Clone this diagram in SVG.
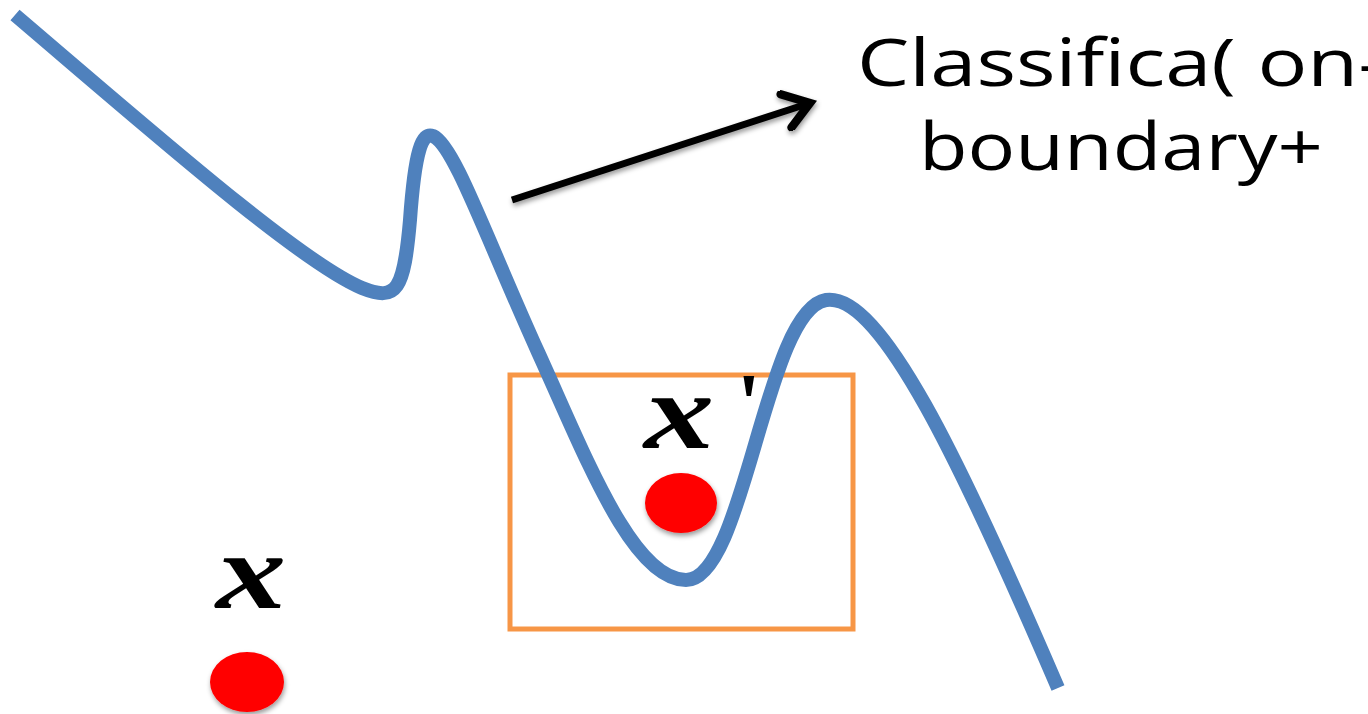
<svg xmlns="http://www.w3.org/2000/svg" width="1368" height="714" viewBox="0 0 1368 714">
<defs>
<filter id="sh" x="-30%" y="-30%" width="160%" height="170%"><feDropShadow dx="1" dy="3" stdDeviation="2.5" flood-color="#000" flood-opacity="0.4"/></filter>
<marker id="ah" markerWidth="6" markerHeight="6" refX="4.6" refY="3" orient="auto" markerUnits="strokeWidth"><path d="M1,0.5 L4.6,3 L1,5.5" fill="none" stroke="#000" stroke-width="1.2" stroke-linecap="round" stroke-linejoin="miter"/></marker>
</defs>
<style>
.lbl{font-family:"Open Sans","Liberation Sans",sans-serif;font-size:66px;fill:#000}
.var{font-family:"Liberation Serif","DejaVu Serif",serif;font-style:italic;font-weight:bold;font-size:108px;fill:#000}
.prime{font-family:"Liberation Serif","DejaVu Serif",serif;font-weight:bold;font-size:85px;fill:#000}
.dot{fill:#ff0000;filter:url(#sh)}
</style>
<rect width="1368" height="714" fill="#fff"/>
<g id="box"><rect x="510" y="375" width="343" height="254" fill="none" stroke="#F79646" stroke-width="5"/></g>
<g id="curve"><path d="M15,15 C150,130 300,262 362,288 C397,302 404,290 410,220 C415,150 422,132 433,136 C454,145 485,235 538,352 C585,455 632,580 686,580 C745,580 765,310 826,300 C880,292 960,460 1058,688" fill="none" stroke="#4F81BD" stroke-width="14" stroke-linecap="butt"/></g>
<g id="connectors"><line x1="512" y1="200" x2="810" y2="103" stroke="#000" stroke-width="7" marker-end="url(#ah)" filter="url(#sh)"/></g>
<g id="label"><text class="lbl" x="857" y="86" textLength="528" lengthAdjust="spacingAndGlyphs">Classifica( on-</text><text class="lbl" x="919" y="170" textLength="404" lengthAdjust="spacingAndGlyphs">boundary+</text></g>
<g id="x"><text class="var" transform="translate(216,608) scale(1.3,1)">x</text><ellipse class="dot" cx="247" cy="682" rx="37" ry="30"/></g>
<g id="xprime"><text class="var" transform="translate(644,448) scale(1.3,1)">x</text><text class="prime" x="737" y="432">'</text><ellipse class="dot" cx="681" cy="503" rx="36" ry="30"/></g>
</svg>
